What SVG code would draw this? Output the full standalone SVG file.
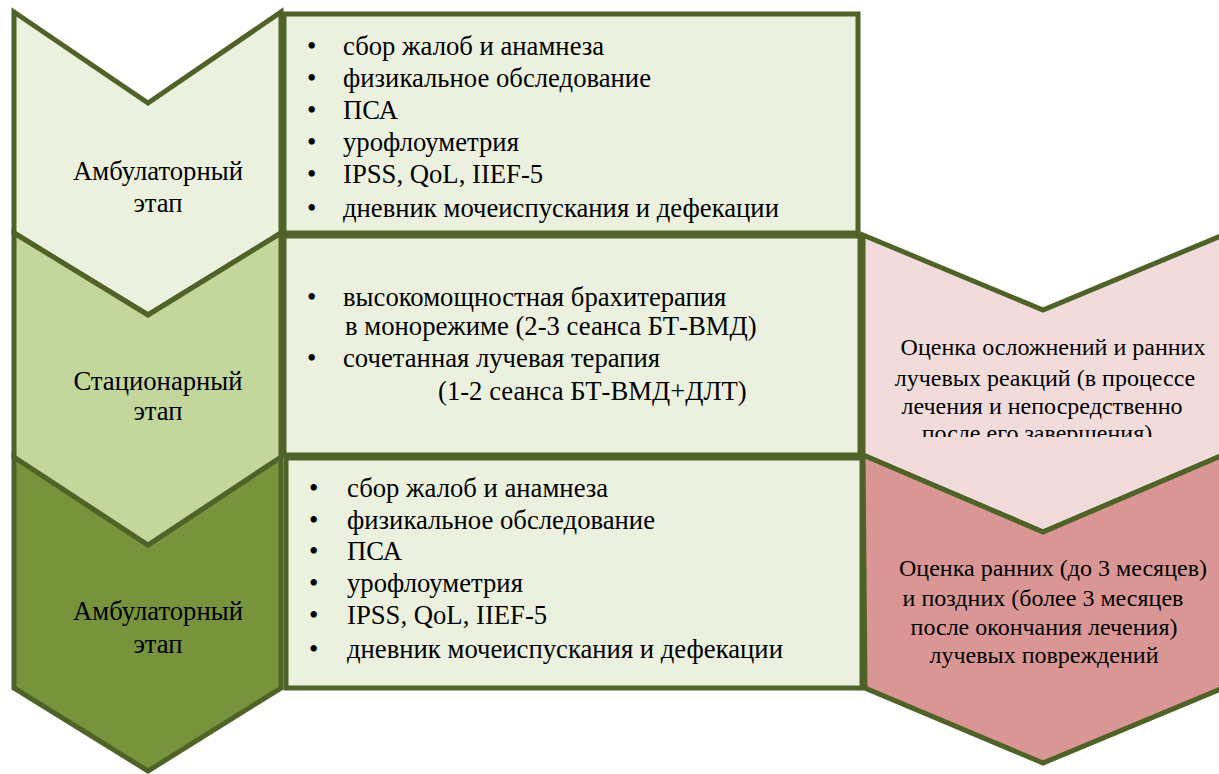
<svg xmlns="http://www.w3.org/2000/svg" width="1219" height="774" viewBox="0 0 1219 774">
<style>
.s{stroke:#4F6228;stroke-width:5;stroke-linejoin:miter}
.t{font-family:'Liberation Serif',Tinos,'Times New Roman','DejaVu Serif',serif;font-size:24px;fill:#000}
.l{font-size:26.7px}
.c{text-anchor:middle}
</style>
<defs>
<clipPath id="r1clip"><rect x="863" y="235" width="356" height="202"/></clipPath>
</defs>
<rect width="1219" height="774" fill="#fff"/>
<g id="stage1">
<polygon class="s" fill="#EBF1DE" points="14,12 148,103 281,12 281,233 148,315 14,233"/>
<text class="t l c" x="158" y="180">Амбулаторный</text>
<text class="t l c" x="158" y="212">этап</text>
</g>
<g id="stage3">
<polygon class="s" fill="#77933C" points="14,457 148,545 281,457 281,688 148,771 14,688"/>
<text class="t l c" x="158" y="620">Амбулаторный</text>
<text class="t l c" x="158" y="653">этап</text>
</g>
<g id="stage2">
<polygon class="s" fill="#C3D69B" points="14,233 148,315 281,233 281,457 148,545 14,457"/>
<text class="t l c" x="158" y="390">Стационарный</text>
<text class="t l c" x="158" y="420">этап</text>
</g>
<g id="list1">
<rect class="s" fill="#EBF1DE" x="284" y="14" width="574" height="219"/>
<g class="t l">
<text x="307" y="55">•</text><text x="343" y="55">сбор жалоб и анамнеза</text>
<text x="307" y="87">•</text><text x="343" y="87">физикальное обследование</text>
<text x="307" y="119">•</text><text x="343" y="119">ПСА</text>
<text x="307" y="151">•</text><text x="343" y="151">урофлоуметрия</text>
<text x="307" y="183">•</text><text x="343" y="183">IPSS, QoL, IIEF-5</text>
<text x="307" y="217">•</text><text x="343" y="217">дневник мочеиспускания и дефекации</text>
</g>
</g>
<g id="list2">
<rect class="s" fill="#EBF1DE" x="284" y="236" width="576" height="219"/>
<g class="t l">
<text x="307" y="306">•</text><text x="343" y="306">высокомощностная брахитерапия</text>
<text x="345" y="335">в монорежиме (2-3 сеанса БТ-ВМД)</text>
<text x="307" y="367">•</text><text x="343" y="367">сочетанная лучевая терапия</text>
<text x="438" y="400">(1-2 сеанса БТ-ВМД+ДЛТ)</text>
</g>
</g>
<g id="list3">
<rect class="s" fill="#EBF1DE" x="286" y="458" width="576" height="230"/>
<g class="t l">
<text x="309" y="497">•</text><text x="347" y="497">сбор жалоб и анамнеза</text>
<text x="309" y="529">•</text><text x="347" y="529">физикальное обследование</text>
<text x="309" y="560">•</text><text x="347" y="560">ПСА</text>
<text x="309" y="592">•</text><text x="347" y="592">урофлоуметрия</text>
<text x="309" y="624">•</text><text x="347" y="624">IPSS, QoL, IIEF-5</text>
<text x="309" y="658">•</text><text x="347" y="658">дневник мочеиспускания и дефекации</text>
</g>
</g>
<g id="eval1">
<polygon class="s" fill="#F2DCDB" points="863,235 1043,310 1223,235 1223,455 1043,532 863,455"/>
<g class="t c" clip-path="url(#r1clip)">
<text x="1053" y="355">Оценка осложнений и ранних</text>
<text x="1045" y="386">лучевых реакций (в процессе</text>
<text x="1042" y="414">лечения и непосредственно</text>
<text x="1037" y="441">после его завершения)</text>
</g>
</g>
<g id="eval2">
<polygon class="s" fill="#D99694" points="863,455 1043,532 1223,455 1223,688 1043,763 865,688"/>
<g class="t c">
<text x="1053" y="576">Оценка ранних (до 3 месяцев)</text>
<text x="1043" y="606">и поздних (более 3 месяцев</text>
<text x="1044" y="635">после окончания лечения)</text>
<text x="1044" y="663">лучевых повреждений</text>
</g>
</g>
<g id="connectors"></g>
</svg>
